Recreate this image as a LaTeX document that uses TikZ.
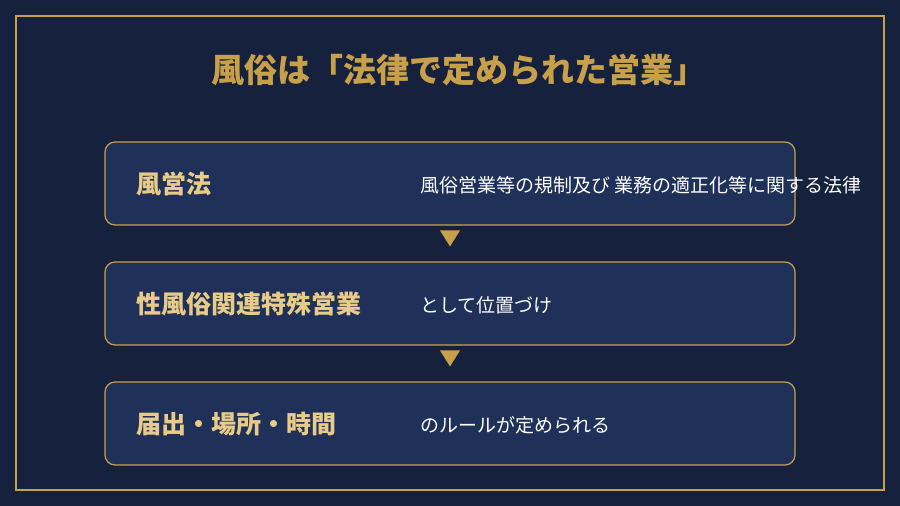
\documentclass[tikz,border=0pt]{standalone}
\usepackage{fontspec}
\setmainfont{Noto Sans CJK JP}
\usetikzlibrary{shapes.geometric, positioning}
\definecolor{navy}{HTML}{16223D}
\definecolor{boxnavy}{HTML}{1F3158}
\definecolor{gold}{HTML}{C9A04A}
\definecolor{lightgold}{HTML}{E8CB88}
\tikzstyle{frame} = [draw=gold, line width=2pt]
\tikzstyle{title} = [text=gold, font=\fontsize{33}{38}\selectfont\bfseries]
\tikzstyle{stage} = [rectangle, rounded corners=10pt, minimum width=690pt, minimum height=83pt, draw=gold, line width=1.2pt, fill=boxnavy]
\tikzstyle{term} = [anchor=west, inner sep=0pt, text=lightgold, font=\fontsize{25}{30}\selectfont\bfseries]
\tikzstyle{note} = [anchor=west, inner sep=0pt, text=white, font=\fontsize{19}{23}\selectfont]
\tikzstyle{pointer} = [isosceles triangle, shape border rotate=-90, isosceles triangle apex angle=64, minimum width=20pt, minimum height=16pt, inner sep=0pt, fill=gold]

\begin{document}
\begin{tikzpicture}[x=1pt, y=-1pt]
    \fill [navy] (0,0) rectangle (900,506);
    \draw [frame] (16,16) rectangle (884,490);
    \node [title] at (459,70) (head) {風俗は「法律で定められた営業」};
    \node [stage] at (450,183.5) (law) {};
    \node [stage] at (450,303.5) (kind) {};
    \node [stage] at (450,423.5) (rules) {};
    \node [term] at (136,184) (lawterm) {風営法};
    \node [note] at (420,185) (lawnote) {風俗営業等の規制及び 業務の適正化等に関する法律};
    \node [term] at (136,304) (kindterm) {性風俗関連特殊営業};
    \node [note] at (420,305) (kindnote) {として位置づけ};
    \node [term] at (136,424) (rulesterm) {届出・場所・時間};
    \node [note] at (420,425) (rulesnote) {のルールが定められる};
    \node [pointer] at (450,236) (step1) {};
    \node [pointer] at (450,356) (step2) {};
\end{tikzpicture}
\end{document}
